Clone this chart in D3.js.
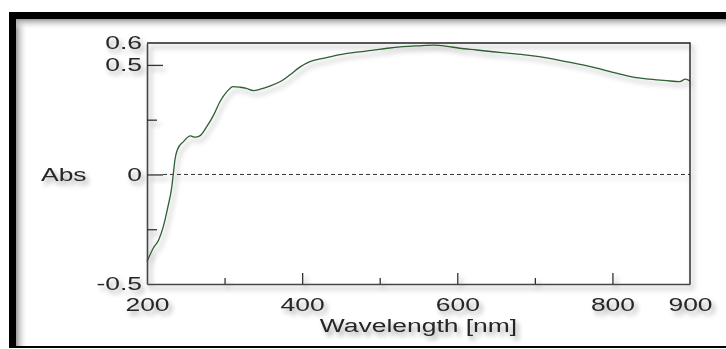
<!DOCTYPE html>
<html>
<head>
<meta charset="utf-8">
<script src="https://cdn.jsdelivr.net/npm/d3@7"></script>
<style>
  html, body { margin: 0; padding: 0; background: #fff; }
  svg { display: block; }
  text { font-family: "Liberation Sans", Arial, sans-serif; fill: #262626; }
</style>
</head>
<body>
<svg id="chart" width="726" height="349"></svg>
<script>
// Absorbance spectrum, 200–900 nm
const wavelengths = [200,208,215,221,227,232,234,236,239,247,256,262,268,277,286,294,303,311,320,328,337,346,359,372,384,397,410,427,449,470,490,510,530,550,570,585,603,625,646,668,690,719,740,762,784,805,827,848,870,887,894,900];
const absorbance  = [-0.398,-0.337,-0.299,-0.238,-0.147,-0.056,0.005,0.066,0.112,0.150,0.176,0.170,0.176,0.218,0.272,0.332,0.378,0.401,0.398,0.393,0.383,0.389,0.404,0.424,0.454,0.490,0.515,0.530,0.547,0.558,0.566,0.576,0.583,0.587,0.590,0.586,0.576,0.568,0.560,0.553,0.545,0.530,0.515,0.500,0.482,0.462,0.444,0.435,0.428,0.424,0.435,0.427];

const xMajorTicks = [400, 600, 800];
const xMinorTicks = [300, 500, 700];
const xTickLabels = [200, 400, 600, 800, 900];
const yMajorTicks = [0.5, 0];
const yMinorTicks = [0.25, -0.25];
const yTickLabels = [0.6, 0.5, 0, -0.5];

const X_LABEL = "Wavelength [nm]";
const Y_LABEL = "Abs";

const W = 726, H = 349;
const plot = { left: 147, right: 690, top: 43, bottom: 284 };
const SX = 1.47; // horizontal stretch applied to all lettering

const svg = d3.select("#chart");
const defs = svg.append("defs");

// soft drop shadow used by everything inside the frame
const shadow = defs.append("filter").attr("id", "shadow")
  .attr("x", "-10%").attr("y", "-10%").attr("width", "130%").attr("height", "140%");
shadow.append("feDropShadow")
  .attr("dx", 3).attr("dy", 4).attr("stdDeviation", 2.6)
  .attr("flood-color", "#000").attr("flood-opacity", 0.36);

// inner shading of the outer frame
const gl = defs.append("linearGradient").attr("id", "gLeft").attr("x1", 0).attr("x2", 1).attr("y1", 0).attr("y2", 0);
gl.append("stop").attr("offset", "0%").attr("stop-color", "#9a9a9a");
gl.append("stop").attr("offset", "100%").attr("stop-color", "#fff").attr("stop-opacity", 0);
const gt = defs.append("linearGradient").attr("id", "gTop").attr("x1", 0).attr("x2", 0).attr("y1", 0).attr("y2", 1);
gt.append("stop").attr("offset", "0%").attr("stop-color", "#9a9a9a");
gt.append("stop").attr("offset", "100%").attr("stop-color", "#fff").attr("stop-opacity", 0);

svg.append("rect").attr("width", W).attr("height", H).attr("fill", "#fff");

// outer frame
svg.append("rect").attr("x", 16).attr("y", 19).attr("width", 12).attr("height", 327).attr("fill", "url(#gLeft)");
svg.append("rect").attr("x", 16).attr("y", 19).attr("width", W - 16).attr("height", 11).attr("fill", "url(#gTop)");
svg.append("rect").attr("x", 9).attr("y", 12).attr("width", W - 9).attr("height", 7).attr("fill", "#000");
svg.append("rect").attr("x", 9).attr("y", 12).attr("width", 7).attr("height", 336).attr("fill", "#000");
svg.append("rect").attr("x", 9).attr("y", 346).attr("width", W - 9).attr("height", 2).attr("fill", "#000");

const x = d3.scaleLinear().domain([200, 900]).range([plot.left, plot.right]);
const y = d3.scaleLinear().domain([-0.5, 0.6]).range([plot.bottom, plot.top]);

const g = svg.append("g").attr("filter", "url(#shadow)");

// zero reference line
g.append("line")
  .attr("x1", plot.left + 16).attr("x2", plot.right)
  .attr("y1", y(0)).attr("y2", y(0))
  .attr("stroke", "#333").attr("stroke-width", 1).attr("stroke-dasharray", "4,3");

// spectrum
const line = d3.line()
  .x((d, i) => x(wavelengths[i]))
  .y(d => y(d))
  .curve(d3.curveMonotoneX);
g.append("path")
  .datum(absorbance)
  .attr("d", line)
  .attr("fill", "none")
  .attr("stroke", "#2e5e34")
  .attr("stroke-width", 1.3);

// plot frame (top/right)
g.append("path")
  .attr("d", `M${plot.left},${plot.top}H${plot.right}V${plot.bottom}`)
  .attr("fill", "none").attr("stroke", "#222").attr("stroke-width", 1.4);

function styleAxis(sel) {
  sel.selectAll(".domain").attr("stroke", "#444").attr("stroke-width", 1.6);
  sel.selectAll(".tick line").attr("stroke", "#333").attr("stroke-width", 1.3);
}

// y axis: long and short inward ticks
g.append("g").attr("transform", `translate(${plot.left},0)`)
  .call(d3.axisLeft(y).tickValues(yMajorTicks).tickSize(-16).tickSizeOuter(0).tickFormat(""))
  .call(styleAxis);
g.append("g").attr("transform", `translate(${plot.left},0)`)
  .call(d3.axisLeft(y).tickValues(yMinorTicks).tickSize(-10).tickSizeOuter(0).tickFormat(""))
  .call(sel => sel.select(".domain").remove())
  .call(styleAxis);

// x axis: long and short inward ticks
g.append("g").attr("transform", `translate(0,${plot.bottom})`)
  .call(d3.axisBottom(x).tickValues(xMajorTicks).tickSize(-11).tickSizeOuter(0).tickFormat(""))
  .call(styleAxis);
g.append("g").attr("transform", `translate(0,${plot.bottom})`)
  .call(d3.axisBottom(x).tickValues(xMinorTicks).tickSize(-6).tickSizeOuter(0).tickFormat(""))
  .call(sel => sel.select(".domain").remove())
  .call(styleAxis);

// tick labels (plain hyphen for negatives)
const fmtY = v => v === 0 ? "0" : v.toFixed(1);
g.append("g").attr("transform", `translate(${plot.left},0)`)
  .call(d3.axisLeft(y).tickValues(yTickLabels).tickSize(0).tickFormat(fmtY))
  .call(sel => {
    sel.select(".domain").remove();
    sel.selectAll("text")
      .attr("x", -5 / SX)
      .attr("transform", `scale(${SX},1)`)
      .attr("font-size", 18)
      .attr("font-family", null)
      .attr("fill", null);
  });

g.append("g").attr("transform", `translate(0,${plot.bottom})`)
  .call(d3.axisBottom(x).tickValues(xTickLabels).tickSize(0).tickPadding(14).tickFormat(d => String(d)))
  .call(sel => {
    sel.select(".domain").remove();
    sel.selectAll("text")
      .attr("transform", `scale(${SX},1)`)
      .attr("font-size", 18)
      .attr("font-family", null)
      .attr("fill", null);
  });

// axis titles
g.append("text")
  .attr("transform", `translate(${(plot.left + plot.right) / 2},332) scale(${SX},1)`)
  .attr("text-anchor", "middle")
  .attr("font-size", 18)
  .text(X_LABEL);

g.append("text")
  .attr("transform", `translate(41,${y(0)}) scale(${SX},1)`)
  .attr("dy", "0.35em")
  .attr("font-size", 18)
  .text(Y_LABEL);
</script>
</body>
</html>
